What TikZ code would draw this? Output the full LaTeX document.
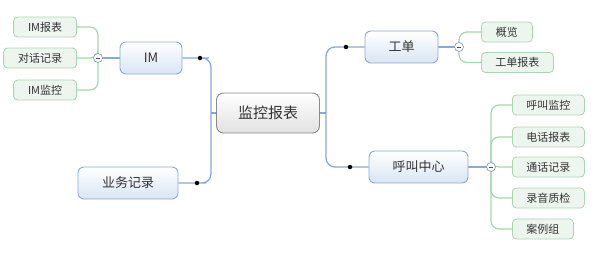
\documentclass[tikz,border=0pt]{standalone}
\usepackage{fontspec}
\setmainfont{Noto Sans CJK SC}
\usetikzlibrary{backgrounds}

\definecolor{rootline}{HTML}{8A8A8A}
\definecolor{rootfill}{HTML}{E2E2E2}
\definecolor{topicline}{HTML}{8CA9D4}
\definecolor{topicfill}{HTML}{D9E5F5}
\definecolor{leafline}{HTML}{A9D5B0}
\definecolor{leaffill}{HTML}{EDF6EE}
\definecolor{linkblue}{HTML}{88A8D6}
\definecolor{linkgreen}{HTML}{A8D5AF}
\definecolor{foldline}{HTML}{8A9FBF}
\definecolor{txtgray}{HTML}{333333}

\begin{document}
\begin{tikzpicture}[x=1pt, y=-1pt,
    every node/.style={text=txtgray, inner sep=0pt},
    root/.style={draw=rootline, line width=0.9pt, rounded corners=7pt, top color=white, bottom color=rootfill, minimum height=40pt, font=\fontsize{15}{18}\selectfont},
    topic/.style={draw=topicline, line width=0.9pt, rounded corners=6pt, top color=white, bottom color=topicfill, minimum height=32pt, font=\fontsize{13}{16}\selectfont},
    leaf/.style={draw=leafline, line width=0.8pt, fill=leaffill, rounded corners=4pt, minimum height=20pt, font=\fontsize{11}{13}\selectfont},
    knot/.style={circle, fill=black, minimum size=4.5pt},
    fold/.style={circle, draw=foldline, line width=0.7pt, fill=white, minimum size=9pt,
        path picture={\draw[line width=0.8pt, black!70] ([xshift=-2pt]path picture bounding box.center) -- ([xshift=2pt]path picture bounding box.center);}},
    bluelink/.style={draw=linkblue, line width=1.3pt, rounded corners=9pt},
    greenlink/.style={draw=linkgreen, line width=1.2pt, rounded corners=8pt}]
    \useasboundingbox (0,0) rectangle (596,260);

    % central topic and main branches
    \node[root, minimum width=103pt] (main) at (268,113) {监控报表};
    \node[topic, minimum width=62pt] (im) at (151,58) {IM};
    \node[topic, minimum width=100pt] (biz) at (128,183) {业务记录};
    \node[topic, minimum width=73pt] (ticket) at (401.5,47) {工单};
    \node[topic, minimum width=99pt] (call) at (418.5,167) {呼叫中心};

    \coordinate (spineL) at (211,113);
    \coordinate (spineR) at (326,113);
    \node[knot] (kim) at (200,58) {};
    \node[knot] (kbiz) at (197,183) {};
    \node[knot] (kticket) at (346,47) {};
    \node[knot] (kcall) at (350,167) {};

    \node[fold] (fim) at (98,58) {};
    \node[fold] (fticket) at (459,47) {};
    \node[fold] (fcall) at (491,167) {};

    % leaves
    \node[leaf, minimum width=63pt, anchor=east] (imrep) at (77,27) {IM报表};
    \node[leaf, minimum width=73pt, anchor=east] (chat) at (77,58) {对话记录};
    \node[leaf, minimum width=63pt, anchor=east] (immon) at (77,90) {IM监控};
    \node[leaf, minimum width=51pt, anchor=west] (overview) at (481,32) {概览};
    \node[leaf, minimum width=72pt, anchor=west] (tickrep) at (481,62.5) {工单报表};
    \foreach \name/\txt/\y/\w in {cmon/呼叫监控/105/72, phone/电话报表/137/72, talk/通话记录/167/72, qa/录音质检/198/72, cases/案例组/229/61}
        \node[leaf, minimum width=\w pt, anchor=west] (\name) at (512,\y) {\txt};

    \begin{scope}[on background layer]
        \draw[bluelink] (main.west) -- (spineL);
        \draw[bluelink] (spineL) |- (kim.center) -- (im.east);
        \draw[bluelink] (spineL) |- (kbiz.center) -- (biz.east);
        \draw[bluelink] (main.east) -- (spineR);
        \draw[bluelink] (spineR) |- (kticket.center) -- (ticket.west);
        \draw[bluelink] (spineR) |- (kcall.center) -- (call.west);
        \draw[bluelink] (im.west) -- (fim.center);
        \draw[bluelink] (ticket.east) -- (fticket.center);
        \draw[bluelink] (call.east) -- (fcall.center);
        \foreach \leafname in {imrep, chat, immon}
            \draw[greenlink] (fim.center) |- (\leafname.east);
        \foreach \leafname in {overview, tickrep}
            \draw[greenlink] (fticket.center) |- (\leafname.west);
        \foreach \leafname in {cmon, phone, talk, qa, cases}
            \draw[greenlink] (fcall.center) |- (\leafname.west);
    \end{scope}
\end{tikzpicture}
\end{document}
